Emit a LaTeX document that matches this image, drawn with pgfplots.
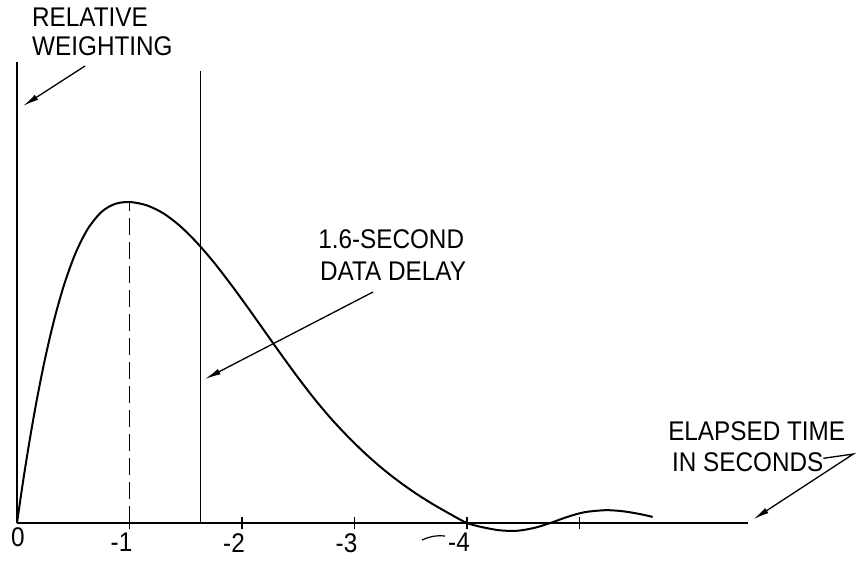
\documentclass[border=0pt]{standalone}
\usepackage{fontspec}
\setmainfont{Liberation Sans}[FakeStretch=0.9]
\usepackage{pgfplots}
\pgfplotsset{compat=1.18}
\usetikzlibrary{arrows.meta}
\newcommand{\lbl}{\fontsize{27}{31}\selectfont}
\begin{document}
\begin{tikzpicture}
\begin{axis}[
  x=112.5pt, y=321pt,
  xmin=0, xmax=6.5, ymin=0, ymax=1.436,
  axis lines*=left,
  axis line style={line width=1.5pt, black},
  clip=false,
  enlargelimits=false,
  ytick=\empty,
  xtick={1,2,3,4,5},
  xticklabels={-1,-2,-3,-4,{}},
  extra x ticks={0},
  extra x tick labels={0},
  extra x tick style={major tick length=0pt, xticklabel style={xshift=9pt}},
  tick align=center,
  major tick length=12pt,
  tick style={line width=1.3pt, black},
  xticklabel style={font=\lbl, anchor=north, inner sep=0pt, xshift=-8pt, yshift=-4pt},
]
% fixed frame (proportions of the reference)
\path (axis cs:-0.1511,-0.1184) rectangle (axis cs:7.502,1.6293);

% weighting curve
\addplot[line width=2pt, black, smooth, tension=0.5] coordinates {
(0,0) (0.03,0.0733) (0.07,0.1659) (0.12,0.2735) (0.18,0.3911) (0.25,0.5129)
(0.33,0.6326) (0.42,0.7438) (0.52,0.8404) (0.63,0.9167) (0.75,0.9688)
(0.87,0.9939) (1.0,1.0) (1.15,0.99) (1.3,0.965) (1.45,0.925) (1.6,0.873)
(1.75,0.812) (1.9,0.744) (2.05,0.672) (2.2,0.598) (2.35,0.524) (2.5,0.452)
(2.65,0.384) (2.8,0.322) (2.95,0.266) (3.1,0.215) (3.25,0.169) (3.4,0.128)
(3.55,0.091) (3.7,0.058) (3.85,0.028) (4.0,0.0) (4.15,-0.014) (4.3,-0.023)
(4.45,-0.024) (4.6,-0.015) (4.74,0) (4.9,0.02) (5.05,0.034) (5.24,0.040)
(5.4,0.036) (5.55,0.027) (5.65,0.019)
};

% dashed line at the peak
\addplot[line width=1.6pt, black, dash pattern=on 17pt off 7pt] coordinates {(1,0) (1,1)};
% 1.6-second delay line
\addplot[line width=1.3pt, black] coordinates {(1.63,0) (1.63,1.408)};

% arrows
\draw[line width=1.3pt, -{Latex[length=16pt,width=6pt]}] (axis cs:0.6044,1.4237) -- (axis cs:0.0533,1.2991);
\draw[line width=1.3pt, -{Latex[length=16pt,width=6pt]}] (axis cs:3.1644,0.7196) -- (axis cs:1.6711,0.4486);
\draw[line width=1.3pt, -{Latex[length=16pt,width=6pt]}] (axis cs:7.167,0.2016) -- (axis cs:7.434,0.215) -- (axis cs:6.545,0.0115);
% small stroke near -4
\draw[line width=1.2pt] (axis cs:3.6,-0.053) to[bend left=15] (axis cs:3.804,-0.0405);

% texts
\node[anchor=base west, inner sep=0pt, font=\lbl] at (axis cs:0.1333,1.5452) {RELATIVE};
\node[anchor=base west, inner sep=0pt, font=\lbl] at (axis cs:0.1333,1.4579) {WEIGHTING};
\node[anchor=base west, inner sep=0pt, font=\lbl] at (axis cs:2.676,0.8567) {1.6-SECOND};
\node[anchor=base west, inner sep=0pt, font=\lbl] at (axis cs:2.693,0.757) {DATA DELAY};
\node[anchor=base west, inner sep=0pt, font=\lbl] at (axis cs:5.787,0.2586) {ELAPSED TIME};
\node[anchor=base west, inner sep=0pt, font=\lbl] at (axis cs:5.822,0.162) {IN SECONDS};
\end{axis}
\end{tikzpicture}
\end{document}
